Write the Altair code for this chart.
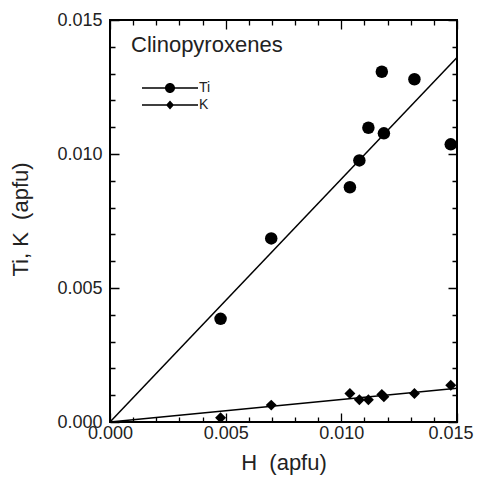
import altair as alt
import pandas as pd

# ---- data ----
ti_h = [0.00478, 0.00697, 0.01037, 0.01078, 0.01117, 0.01175, 0.01184, 0.01316, 0.01473]
ti_v = [0.00385, 0.00685, 0.00876, 0.00976, 0.01098, 0.01307, 0.01077, 0.01279, 0.01036]
k_h = [0.00478, 0.00697, 0.01037, 0.01078, 0.01117, 0.01175, 0.01184, 0.01316, 0.01473]
k_v = [0.00016, 0.00063, 0.00106, 0.00083, 0.00083, 0.00103, 0.00094, 0.00106, 0.00137]

fit_h = [0.0, 0.015]
ti_fit = [0.0, 0.0136]
k_fit = [0.0, 0.00126]

major_labels = ["0.000", "0.005", "0.010", "0.015"]
minor_ticks = [0.0, 0.001, 0.002, 0.003, 0.004, 0.005, 0.006, 0.007,
               0.008, 0.009, 0.010, 0.011, 0.012, 0.013, 0.014, 0.015]
domain = [0.0, 0.015]

legend_series = ["Ti", "K"]
legend_paths = [
    "M-5.6,-0.15H5.6V0.15H-5.6ZM1,0A1,1 0 1,1 -1,0A1,1 0 1,1 1,0Z",
    "M-5.6,-0.15H5.6V0.15H-5.6ZM0,-0.9L0.8,0L0,0.9L-0.8,0Z",
]

FONT = "Liberation Sans"
TXT = "#222222"
W, H = 347, 402

ti_df = pd.DataFrame({"h": ti_h, "v": ti_v})
k_df = pd.DataFrame({"h": k_h, "v": k_v})
ti_fit_df = pd.DataFrame({"h": fit_h, "v": ti_fit})
k_fit_df = pd.DataFrame({"h": fit_h, "v": k_fit})
leg_df = pd.DataFrame({"h": [0.0, 0.0], "v": [0.0, 0.0], "series": legend_series})

xs = alt.Scale(domain=domain, nice=False, zero=True)
ys = alt.Scale(domain=domain, nice=False, zero=True)

MAJOR_TEST = "abs(datum.value * 200 - round(datum.value * 200)) < 0.001"
LABEL_EXPR = ("indexof(" + str(major_labels).replace('"', "'") +
              ", datum.label) >= 0 ? datum.label : ''")


def frame_axis(orient, length, **kw):
    # grid lines dashed so that only short inward ticks remain at both frame edges
    major_len, minor_len = 9, 5
    return alt.Axis(
        orient=orient, values=minor_ticks, tickCount=40, format=".3f",
        labelExpr=LABEL_EXPR,
        labelOverlap=False, labelFlush=False, ticks=False, domain=False,
        grid=True, gridColor="black", gridOpacity=1, gridWidth=1.3,
        gridDash={"condition": {"test": MAJOR_TEST,
                                "value": [major_len, length - 2 * major_len, major_len, 0]},
                  "value": [minor_len, length - 2 * minor_len, minor_len, 0]},
        labelFont=FONT, labelFontSize=18, labelColor=TXT,
        titleFont=FONT, titleFontSize=22, titleFontWeight="normal", titleColor=TXT,
        **kw)


x_axis = frame_axis(
    "bottom", H, labelPadding=2,
    labelAlign={"condition": {"test": "datum.value > 0.014", "value": "right"},
                "value": "center"},
    labelOffset={"condition": {"test": "datum.value > 0.014", "value": 16},
                 "value": 0},
    title="H\u00a0\u00a0(apfu)", titleBaseline="alphabetic", titleY=47)

y_axis = frame_axis(
    "left", W, labelPadding=8,
    title="Ti, K\u00a0\u00a0(apfu)", titleAngle=-90, titleBaseline="alphabetic",
    titleAlign="center", titleX=-83, titleY=199)

ti_pts = alt.Chart(ti_df).mark_point(shape="circle", filled=True, size=156, opacity=1,
                                     color="black").encode(
    x=alt.X("h:Q", scale=xs, axis=x_axis),
    y=alt.Y("v:Q", scale=ys, axis=y_axis),
)

k_pts = alt.Chart(k_df).mark_point(shape="diamond", filled=True, size=120, opacity=1,
                                   color="black").encode(
    x=alt.X("h:Q", scale=xs),
    y=alt.Y("v:Q", scale=ys),
)

ti_line = alt.Chart(ti_fit_df).mark_line(color="black", strokeWidth=1.5).encode(
    x=alt.X("h:Q", scale=xs),
    y=alt.Y("v:Q", scale=ys),
)

k_line = alt.Chart(k_fit_df).mark_line(color="black", strokeWidth=1.5).encode(
    x=alt.X("h:Q", scale=xs),
    y=alt.Y("v:Q", scale=ys),
)

legend = alt.Legend(orient="none", legendX=21, legendY=15, padding=0,
                    title="Clinopyroxenes", titleFont=FONT, titleFontSize=22,
                    titleFontWeight="normal", titleColor=TXT, titlePadding=24,
                    labelFont=FONT, labelFontSize=14, labelColor=TXT,
                    labelOffset=22, symbolOffset=32, symbolSize=100,
                    symbolStrokeWidth=0, symbolFillColor="black",
                    symbolOpacity=1, rowPadding=3)

leg = alt.Chart(leg_df).transform_filter("false").mark_point(
    filled=True, opacity=1, color="black").encode(
    x=alt.X("h:Q", scale=xs),
    y=alt.Y("v:Q", scale=ys),
    shape=alt.Shape("series:N", scale=alt.Scale(domain=legend_series, range=legend_paths),
                    legend=legend),
)

chart = alt.layer(ti_pts, k_pts, ti_line, k_line, leg).properties(
    width=W, height=H,
    autosize=alt.AutoSizeParams(type="none"),
    padding={"left": 102, "top": 12, "right": 17, "bottom": 56},
    background="white",
).configure_view(stroke="black", strokeWidth=2)

chart.save("out.html", embed_options={"renderer": "svg", "actions": False})
